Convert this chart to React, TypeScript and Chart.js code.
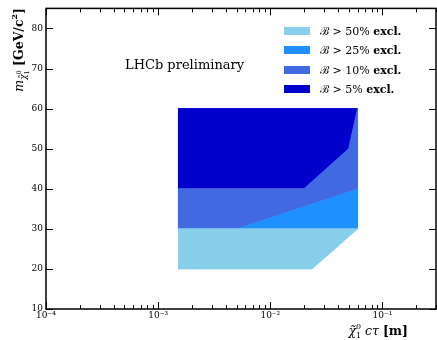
import React, { useEffect, useRef } from 'react';
import { Chart, registerables } from 'chart.js';

Chart.register(...registerables);

// ---- data ----
const seriesLabels = ['50%', '25%', '10%', '5%'];
const seriesColors = ['#87CEEB', '#1E90FF', '#4169E1', '#0000CD'];

// exclusion regions (x = cτ [m], y = mass [GeV/c²]), polygon vertices
const excl50X = [0.0015, 0.0235, 0.06, 0.0015];
const excl50Y = [20, 20, 30, 30];
const excl25X = [0.005, 0.06, 0.06];
const excl25Y = [30, 30, 40];
const excl10X = [0.0015, 0.005, 0.06, 0.06, 0.05, 0.02, 0.0015];
const excl10Y = [30, 30, 40, 60, 50, 40, 40];
const excl5X = [0.0015, 0.02, 0.05, 0.06, 0.0015];
const excl5Y = [40, 40, 50, 60, 60];

const xTickValues = [1e-4, 1e-3, 1e-2, 1e-1];
const xTickLabels = ['10⁻⁴', '10⁻³', '10⁻²', '10⁻¹'];
const yTickValues = [10, 20, 30, 40, 50, 60, 70, 80];
const xMin = 1e-4;
const xMax = 0.3;
const yMin = 10;
const yMax = 85;

const SERIF = '"DejaVu Serif", serif';

type Piece = { t: string; f: string; dy?: number; stack?: boolean };

function piecesWidth(ctx: CanvasRenderingContext2D, pieces: Piece[]) {
  let w = 0;
  for (let i = 0; i < pieces.length; i++) {
    const p = pieces[i];
    ctx.font = p.f;
    const pw = ctx.measureText(p.t).width;
    if (p.stack) {
      const n = pieces[i + 1];
      ctx.font = n.f;
      const nw = ctx.measureText(n.t).width;
      w += Math.max(pw, nw);
      i++;
    } else {
      w += pw;
    }
  }
  return w;
}

function drawPieces(ctx: CanvasRenderingContext2D, pieces: Piece[], x: number, y: number) {
  let cx = x;
  ctx.textAlign = 'left';
  ctx.textBaseline = 'alphabetic';
  for (let i = 0; i < pieces.length; i++) {
    const p = pieces[i];
    ctx.font = p.f;
    ctx.fillText(p.t, cx, y + (p.dy || 0));
    const pw = ctx.measureText(p.t).width;
    if (p.stack) {
      const n = pieces[i + 1];
      ctx.font = n.f;
      ctx.fillText(n.t, cx, y + (n.dy || 0));
      const nw = ctx.measureText(n.t).width;
      cx += Math.max(pw, nw);
      i++;
    } else {
      cx += pw;
    }
  }
}

const decorPlugin = {
  id: 'decor',
  afterDraw(chart: any) {
    const ctx: CanvasRenderingContext2D = chart.ctx;
    const { left, right, top, bottom } = chart.chartArea;
    const xs = chart.scales.x;
    const ys = chart.scales.y;
    ctx.save();
    ctx.strokeStyle = '#000';
    ctx.fillStyle = '#000';

    // ticks (inward)
    ctx.lineWidth = 1;
    ctx.beginPath();
    for (let d = -4; d <= -1; d++) {
      for (let k = 1; k <= 9; k++) {
        const v = k * Math.pow(10, d);
        if (v > xMax * 1.0001) continue;
        const px = Math.round(xs.getPixelForValue(v)) + 0.5;
        const len = k === 1 ? 7 : 4;
        ctx.moveTo(px, bottom);
        ctx.lineTo(px, bottom - len);
        ctx.moveTo(px, top);
        ctx.lineTo(px, top + len);
      }
    }
    for (const v of yTickValues) {
      const py = Math.round(ys.getPixelForValue(v)) + 0.5;
      ctx.moveTo(left, py);
      ctx.lineTo(left + 7, py);
      ctx.moveTo(right, py);
      ctx.lineTo(right - 7, py);
    }
    ctx.stroke();

    // frame
    ctx.lineWidth = 1.5;
    ctx.strokeRect(left, top, right - left, bottom - top);

    // LHCb label
    ctx.font = `13px ${SERIF}`;
    ctx.textAlign = 'left';
    ctx.textBaseline = 'alphabetic';
    ctx.fillText('LHCb preliminary', 125, 69);

    // legend
    const ds = chart.data.datasets;
    for (let i = 0; i < ds.length; i++) {
      const cy = 31 + i * 19.3;
      ctx.fillStyle = ds[i].backgroundColor;
      ctx.fillRect(284, Math.round(cy - 4), 26, 8);
      ctx.fillStyle = '#000';
      drawPieces(
        ctx,
        [
          { t: 'ℬ', f: `11px ${SERIF}` },
          { t: ' > ' + ds[i].label + ' ', f: `11px ${SERIF}` },
          { t: 'excl.', f: `bold 11px ${SERIF}` },
        ],
        320,
        Math.round(cy + 4)
      );
    }

    // x-axis title
    const xt: Piece[] = [
      { t: 'χ̃', f: `italic 12.5px ${SERIF}` },
      { t: '0', f: `8px ${SERIF}`, dy: -6, stack: true },
      { t: '1', f: `8px ${SERIF}`, dy: 3 },
      { t: ' cτ ', f: `italic 12.5px ${SERIF}` },
      { t: '[m]', f: `bold 12.5px ${SERIF}` },
    ];
    const xw = piecesWidth(ctx, xt);
    drawPieces(ctx, xt, 408 - xw, 335);

    // y-axis title (rotated)
    const yt: Piece[] = [
      { t: 'm', f: `italic 12.5px ${SERIF}` },
      { t: 'χ̃', f: `italic 9px ${SERIF}`, dy: 3 },
      { t: '0', f: `6.5px ${SERIF}`, dy: -2, stack: true },
      { t: '1', f: `6.5px ${SERIF}`, dy: 6 },
      { t: ' [GeV/c', f: `bold 12.5px ${SERIF}` },
      { t: '2', f: `bold 8px ${SERIF}`, dy: -6 },
      { t: ']', f: `bold 12.5px ${SERIF}` },
    ];
    const yw = piecesWidth(ctx, yt);
    ctx.save();
    ctx.translate(23, 8);
    ctx.rotate(-Math.PI / 2);
    drawPieces(ctx, yt, -yw, 0);
    ctx.restore();

    ctx.restore();
  },
};

export default function App() {
  const ref = useRef<HTMLCanvasElement>(null);
  useEffect(() => {
    document.body.style.margin = '0';
    const canvas = ref.current!;
    const mk = (xs: number[], ys: number[]) => xs.map((x, i) => ({ x, y: ys[i] }));
    const polys = [mk(excl50X, excl50Y), mk(excl25X, excl25Y), mk(excl10X, excl10Y), mk(excl5X, excl5Y)];
    const chart = new Chart(canvas, {
      type: 'scatter',
      data: {
        datasets: polys.map((d, i) => ({
          label: seriesLabels[i],
          data: d,
          showLine: true,
          fill: 'shape',
          backgroundColor: seriesColors[i],
          borderColor: seriesColors[i],
          borderWidth: 1,
          pointRadius: 0,
          tension: 0,
        })),
      } as any,
      options: {
        animation: false,
        responsive: false,
        devicePixelRatio: 1,
        layout: { padding: { top: 8, right: 1, left: 0, bottom: 0 } },
        plugins: { legend: { display: false }, tooltip: { enabled: false } },
        scales: {
          x: {
            type: 'logarithmic',
            min: xMin,
            max: xMax,
            grid: { display: false, drawTicks: false },
            border: { display: false },
            afterBuildTicks: (s: any) => {
              s.ticks = xTickValues.map((v) => ({ value: v }));
            },
            afterFit: (s: any) => {
              s.height = 31;
            },
            ticks: {
              autoSkip: false,
              maxRotation: 0,
              padding: 1,
              color: '#000',
              font: { family: SERIF, size: 9 },
              callback: (_v: any, i: number) => xTickLabels[i],
            },
          },
          y: {
            type: 'linear',
            min: yMin,
            max: yMax,
            grid: { display: false, drawTicks: false },
            border: { display: false },
            afterBuildTicks: (s: any) => {
              s.ticks = yTickValues.map((v) => ({ value: v }));
            },
            afterFit: (s: any) => {
              s.width = 46;
            },
            ticks: {
              padding: 3,
              color: '#000',
              font: { family: SERIF, size: 9 },
              callback: (v: any) => String(v),
            },
          },
        },
      } as any,
      plugins: [decorPlugin],
    });
    return () => chart.destroy();
  }, []);
  return (
    <div style={{ width: 437, height: 340 }}>
      <canvas ref={ref} width={437} height={340} />
    </div>
  );
}
